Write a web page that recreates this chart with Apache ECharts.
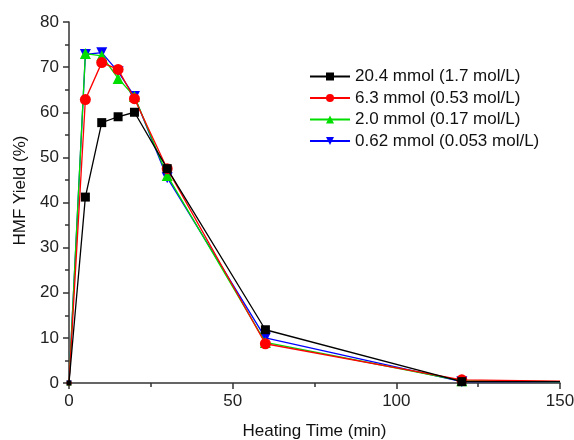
<!DOCTYPE html>
<html><head><meta charset="utf-8">
<script src="https://cdn.jsdelivr.net/npm/echarts@6/dist/echarts.min.js"></script>
<style>html,body{margin:0;padding:0;background:#fff}#c{width:574px;height:440px}</style>
</head><body><div id="c"></div>
<script>
const times = [0, 5, 10, 15, 20, 30, 60, 120, 150];
const names = ['20.4 mmol (1.7 mol/L)', '6.3 mmol (0.53 mol/L)', '2.0 mmol (0.17 mol/L)', '0.62 mmol (0.053 mol/L)'];
const s204 = [0, 41.2, 57.7, 59.0, 60.0, 47.5, 11.8, 0.3, 0.3];
const s63 = [0, 62.8, 71.0, 69.5, 63.0, 47.5, 8.7, 0.7, 0.4];
const s20 = [0, 73.0, 72.5, 67.5, 63.5, 46.0, 9.0, 0.5, 0.3];
const s062 = [0, 72.8, 73.2, 69.0, 63.5, 45.5, 10.0, 0.3, 0.3];
const colors = ['#000000', '#ff0000', '#00dd00', '#0000ff'];
const symbols = ['rect', 'circle', 'triangle', 'triangle'];
const rotations = [0, 0, 0, 180];
const sets = [s204, s63, s20, s062];

const series = sets.map((vals, i) => ({
  name: names[i], type: 'line',
  data: vals.map((v, j) => {
    if (j === times.length - 1) return {value: [times[j], v], symbol: 'none'};
    if (j === 0) return {value: [times[j], v], symbolSize: 5};
    return [times[j], v];
  }),
  symbol: symbols[i], symbolSize: i === 0 ? 9 : 11, symbolRotate: rotations[i],
  itemStyle: {color: colors[i]}, lineStyle: {color: colors[i], width: 1.3},
  z: 2 + (3 - i), clip: false
}));

const font = 'Liberation Sans';
const chart = echarts.init(document.getElementById('c'), null, {renderer: 'canvas'});
chart.setOption({
  animation: false,
  grid: {left: 69, right: 14, top: 22, bottom: 57, containLabel: false, outerBoundsMode: 'none'},
  legend: {
    left: 304, top: 63, orient: 'vertical', itemGap: 4.5, itemWidth: 40, itemHeight: 10,
    textStyle: {fontFamily: font, fontSize: 17, color: '#111'},
    data: names
  },
  xAxis: {
    type: 'value', min: 0, max: 150, interval: 50,
    name: 'Heating Time (min)', nameLocation: 'middle', nameGap: 40,
    nameTextStyle: {fontFamily: font, fontSize: 17, color: '#111'},
    axisLine: {show: true, onZero: false, lineStyle: {color: '#333', width: 1.5}},
    axisTick: {show: true, inside: false, length: 6, lineStyle: {color: '#333', width: 1.5}},
    minorTick: {show: true, splitNumber: 2, length: 4, lineStyle: {color: '#333', width: 1.5}},
    axisLabel: {fontFamily: font, fontSize: 17, color: '#222', margin: 10},
    splitLine: {show: false}
  },
  yAxis: {
    type: 'value', min: 0, max: 80, interval: 10,
    name: 'HMF Yield (%)', nameLocation: 'middle', nameGap: 38, nameRotate: 90,
    nameTextStyle: {fontFamily: font, fontSize: 17, color: '#111', padding: [0, 0, 0, 24]},
    axisLine: {show: true, onZero: false, lineStyle: {color: '#333', width: 1.5}},
    axisTick: {show: true, inside: false, length: 6, lineStyle: {color: '#333', width: 1.5}},
    minorTick: {show: true, splitNumber: 2, length: 4, lineStyle: {color: '#333', width: 1.5}},
    axisLabel: {fontFamily: font, fontSize: 17, color: '#222', margin: 10},
    splitLine: {show: false}
  },
  series: series
});
</script></body></html>
